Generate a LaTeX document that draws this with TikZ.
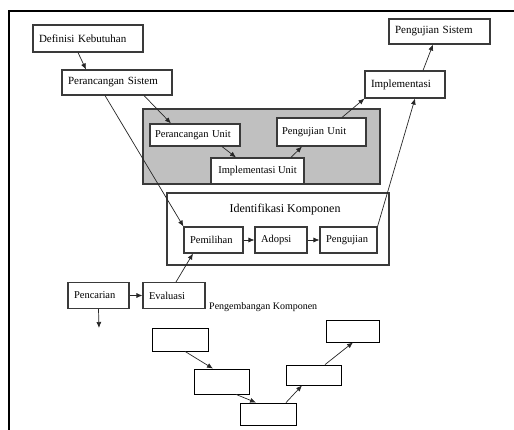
\documentclass[tikz,border=0pt]{standalone}
\usepackage{fontspec}
\setmainfont{Liberation Serif}
\usetikzlibrary{arrows.meta}

\definecolor{boxline}{HTML}{3A3A3A}
\definecolor{panel}{HTML}{C0C0C0}

\tikzset{
  box/.style={draw=boxline, fill=white, line width=1.1pt, inner xsep=6pt,
    inner ysep=0pt, align=left, font=\fontsize{11}{12}\selectfont},
  smallbox/.style={box, font=\fontsize{10.5}{11.5}\selectfont},
  blank/.style={draw=black, fill=white, line width=0.8pt, inner sep=0pt},
  flow/.style={draw=black!85, line width=0.7pt, -{Latex[length=6pt,width=5pt]}},
  frame/.style={draw=black, line width=2pt}
}

\begin{document}
\begin{tikzpicture}[x=1pt, y=-1pt]
\useasboundingbox (0,0) rectangle (514,430);

% page frame (left and top edges)
\draw[frame] (9,430) -- (9,11) -- (514,11);

% shaded unit-level block
\node[draw=boxline, fill=panel, line width=1.1pt, minimum width=237, minimum height=75, inner sep=0pt] (unitblock) at (261.5,146.5) {};

% component identification block
\node[draw=boxline, fill=white, line width=1.1pt, minimum width=222, minimum height=72, inner sep=0pt] (ikblock) at (278,229) {};
\node[font=\fontsize{12}{13}\selectfont] (iktitle) at (285,210) {Identifikasi Komponen};

% system-level nodes
\node[box, text width=98, minimum height=27] (def) at (88,38.5) {Definisi Kebutuhan};
\node[box, text width=98, minimum height=25] (ps) at (117,82.5) {Perancangan Sistem};
\node[box, text width=89, minimum height=25] (pengsys) at (439.5,31.5) {Pengujian Sistem};
\node[box, text width=68, minimum height=27] (impl) at (405,84.5) {Implementasi};

% unit-level nodes
\node[smallbox, text width=80, minimum height=22, inner xsep=5pt] (pu) at (195,135) {Perancangan Unit};
\node[smallbox, text width=79, minimum height=28, inner xsep=5pt] (pgu) at (321.5,132) {Pengujian Unit};
\node[smallbox, minimum width=93, minimum height=26] (iu) at (257.5,171) {Implementasi Unit};

% component nodes
\node[smallbox, text width=47, minimum height=26] (pem) at (213.5,240) {Pemilihan};
\node[smallbox, text width=40, minimum height=26] (ado) at (281,240) {Adopsi};
\node[smallbox, text width=45, minimum height=26] (peng) at (348.5,240) {Pengujian};
\node[smallbox, text width=49, minimum height=26] (pen) at (98.5,295.5) {Pencarian};
\node[smallbox, text width=50, minimum height=26] (eva) at (174,295.5) {Evaluasi};
\node[font=\fontsize{10}{11}\selectfont, anchor=west, inner sep=0pt] (pk) at (209,307) {Pengembangan Komponen};
\coordinate (penout) at (99,328);

% empty development boxes
\node[blank, minimum width=56, minimum height=23] (b1) at (180,339.5) {};
\node[blank, minimum width=55, minimum height=25] (b2) at (221.5,381.5) {};
\node[blank, minimum width=56, minimum height=22] (b3) at (268,414) {};
\node[blank, minimum width=55, minimum height=20] (b4) at (313.5,375) {};
\node[blank, minimum width=53, minimum height=22] (b5) at (352.5,331) {};

% connectors
\draw[flow] (def.south -| 78,0) -- (ps.north -| 86,0);
\draw[flow] (ps.south -| 144,0) -- (pu.north -| 171,0);
\draw[flow] (ps.south -| 105,0) -- (pem.north west);
\draw[flow] (pu.south -| 222,0) -- (iu.north -| 236,0);
\draw[flow] (iu.north -| 291,0) -- (pgu.south -| 302,0);
\draw[flow] (pgu.north -| 342,0) -- (impl.south west);
\draw[flow] (peng.north east) -- (impl.south -| 415,0);
\draw[flow] (impl.north -| 423,0) -- (pengsys.south -| 433,0);
\draw[flow] (pem) -- (ado);
\draw[flow] (ado) -- (peng);
\draw[flow] (eva.north -| 176,0) -- (pem.south -| 193,0);
\draw[flow] (pen) -- (eva);
\draw[flow] (pen.south) -- (penout);
\draw[flow] (b1.south -| 185,0) -- (b2.north -| 213,0);
\draw[flow] (b2.south -| 236,0) -- (b3.north -| 256,0);
\draw[flow] (b3.north -| 286,0) -- (b4.south -| 302,0);
\draw[flow] (b4.north -| 325,0) -- (b5.south -| 353,0);
\end{tikzpicture}
\end{document}
